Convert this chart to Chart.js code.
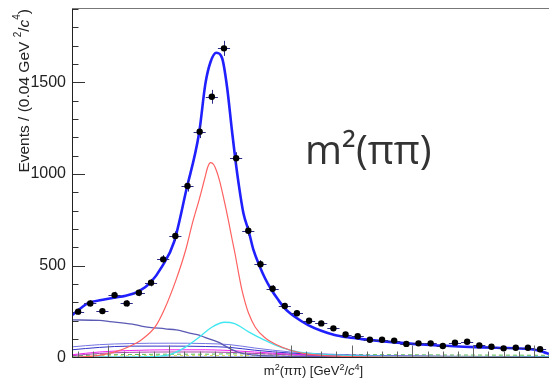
<!DOCTYPE html>
<html>
<head>
<meta charset="utf-8">
<script src="https://cdn.jsdelivr.net/npm/chart.js@4.4.0/dist/chart.umd.min.js"></script>
<style>
  html, body { margin: 0; padding: 0; background: #fff; }
</style>
</head>
<body>
<canvas id="fitChart" width="553" height="379"></canvas>
<script>
// ===== Data (m^2(pi pi) in GeV^2/c^4, events per 0.04 bin) =====
const binCenters = [0.10,0.14,0.18,0.22,0.26,0.30,0.34,0.38,0.42,0.46,0.50,0.54,0.58,0.62,0.66,0.70,0.74,0.78,0.82,0.86,
  0.90,0.94,0.98,1.02,1.06,1.10,1.14,1.18,1.22,1.26,1.30,1.34,1.38,1.42,1.46,1.50,1.54,1.58,1.62];
const events = [250,295,253,340,295,353,408,535,662,935,1231,1421,1685,1086,691,508,375,281,241,200,
  186,159,125,116,97,97,92,74,77,77,63,81,86,66,59,50,53,53,45];

const fitX = [0.080,0.115,0.136,0.177,0.218,0.257,0.298,0.338,0.376,0.416,0.456,0.498,0.519,0.536,0.555,0.574,0.590,0.606,0.617,0.628,
  0.644,0.661,0.677,0.697,0.715,0.735,0.759,0.780,0.813,0.857,0.900,0.944,0.987,1.041,1.150,1.259,1.368,1.476,1.585,1.618,1.643,1.649];
const fitTotal = [230,277,299,313,326,337,359,408,495,631,913,1222,1494,1612,1661,1631,1476,1240,1086,950,
  786,691,586,499,432,372,313,268,222,177,146,123,110,99,81,68,59,53,46,37,23,20];

const rhoX = [0.080,0.139,0.180,0.224,0.267,0.311,0.354,0.383,0.422,0.454,0.476,0.498,0.508,0.518,0.527,0.536,0.546,0.556,0.566,0.576,
  0.586,0.596,0.606,0.617,0.628,0.639,0.650,0.661,0.683,0.713,0.755,0.801,0.857,0.954,1.150,1.649];
const rhoY = [0,6,14,32,59,100,168,259,422,586,731,858,920,985,1040,1062,1052,1015,960,890,
  815,735,650,560,460,368,298,241,165,110,68,38,18,7,2,0];

const f0X = [0.080,0.237,0.334,0.400,0.452,0.498,0.540,0.582,0.615,0.661,0.713,0.768,0.824,0.889,0.987,1.150,1.649];
const f0Y = [1,2,4,15,55,110,165,192,185,140,95,55,30,18,10,5,2];

const broadX = [0.080,0.171,0.204,0.279,0.312,0.387,0.423,0.475,0.498,0.517,0.563,0.592,0.625,0.671,0.759,0.987,1.649];
const broadY = [205,202,196,182,170,156,150,130,122,110,82,55,30,14,8,5,2];

const lowX = [0.08,0.17,0.27,0.40,0.52,0.60,0.68,0.80,1.00,1.30,1.65];
const lowA = [58,70,76,78,76,70,52,30,14,7,4];
const lowB = [42,55,62,62,60,55,40,24,12,6,3];
const lowC = [15,30,38,42,42,38,30,18,9,5,2];
const lowD = [10,22,28,30,30,28,22,14,7,4,2];
const lowGreen = [8,14,16,18,18,20,20,18,16,14,12];
const lowYellow = [5,8,9,10,10,10,10,9,8,7,6];
const lowBase = [1,1,1,1,1,1,1,1,1,1,1];

const yLabels = [0,500,1000,1500];

const X_MIN = 0.08, X_MAX = 1.6493, BIN = 0.04;

// ===== Helpers =====
const pts = (xs, ys) => xs.map((x, i) => ({x: x, y: ys[i]}));

function curve(xs, ys, color, width, order, dash){
  return {
    data: pts(xs, ys), showLine: true, pointRadius: 0, borderColor: color, borderWidth: width,
    borderDash: dash || [], fill: false, cubicInterpolationMode: 'monotone', order: order
  };
}

function drawRich(ctx, parts, x, y){
  let cx = x;
  parts.forEach(p => {
    ctx.font = p[1];
    ctx.fillText(p[0], cx, y + (p[2] || 0));
    cx += ctx.measureText(p[0]).width;
  });
  return cx - x;
}
function richWidth(ctx, parts){
  let w = 0;
  parts.forEach(p => { ctx.font = p[1]; w += ctx.measureText(p[0]).width; });
  return w;
}

const SANS = '"Liberation Sans", Arial, sans-serif';

// ===== ROOT style frame, ticks, error bars, titles =====
const rootFrame = {
  id: 'rootFrame',
  beforeDatasetDraw(chart, args){
    if(args.index !== 0) return;
    const ctx = chart.ctx, xs = chart.scales.x, ys = chart.scales.y;
    ctx.save();
    ctx.strokeStyle = '#2b2b88';
    ctx.lineWidth = 1;
    binCenters.forEach((c, i) => {
      const n = events[i], e = Math.sqrt(n);
      const px = Math.round(xs.getPixelForValue(c)) + 0.5, py = ys.getPixelForValue(n);
      ctx.beginPath();
      ctx.moveTo(px, ys.getPixelForValue(n - e));
      ctx.lineTo(px, ys.getPixelForValue(n + e));
      ctx.moveTo(xs.getPixelForValue(c - BIN/2), Math.round(py) + 0.5);
      ctx.lineTo(xs.getPixelForValue(c + BIN/2), Math.round(py) + 0.5);
      ctx.stroke();
    });
    ctx.restore();
  },
  afterDatasetsDraw(chart){
    const ctx = chart.ctx, a = chart.chartArea, xs = chart.scales.x, ys = chart.scales.y;
    ctx.save();
    // x ticks (inside, from the bottom)
    ctx.strokeStyle = '#666';
    ctx.lineWidth = 1;
    for(let i = 2; i <= 33; i++){
      const v = i * 0.05;
      if(v < X_MIN || v > X_MAX) continue;
      const px = Math.round(xs.getPixelForValue(v)) + 0.5;
      const len = i % 4 === 0 ? 12 : 6;
      ctx.beginPath(); ctx.moveTo(px, a.bottom); ctx.lineTo(px, a.bottom - len); ctx.stroke();
    }
    // y ticks (inside, from the left)
    ctx.strokeStyle = '#333';
    for(let v = 100; v < ys.max; v += 100){
      const py = Math.round(ys.getPixelForValue(v)) + 0.5;
      const len = v % 500 === 0 ? 13 : 6.5;
      ctx.beginPath(); ctx.moveTo(a.left, py); ctx.lineTo(a.left + len, py); ctx.stroke();
    }
    // frame
    ctx.strokeStyle = '#222';
    ctx.beginPath();
    ctx.moveTo(a.left + 0.5, Math.round(a.top) + 0.5);
    ctx.lineTo(a.left + 0.5, a.bottom);
    ctx.lineTo(a.right, a.bottom);
    ctx.stroke();
    ctx.strokeStyle = '#777';
    ctx.beginPath();
    ctx.moveTo(a.left, Math.round(a.top) + 0.5);
    ctx.lineTo(a.right, Math.round(a.top) + 0.5);
    ctx.stroke();
    ctx.restore();
  },
  afterDraw(chart){
    const ctx = chart.ctx;
    ctx.save();
    ctx.fillStyle = '#222';
    ctx.textBaseline = 'alphabetic';
    ctx.textAlign = 'left';
    // y axis title, rotated, right aligned to the top
    const f = '15.5px ' + SANS, fs = '10px ' + SANS, fi = 'italic 15.5px ' + SANS;
    const yTitle = [['Events / (0.04 GeV ', f], ['2', fs, -8], ['/', f], ['c', fi], ['4', fs, -9], [')', f]];
    const wy = richWidth(ctx, yTitle);
    ctx.save();
    ctx.translate(29, 9);
    ctx.rotate(-Math.PI / 2);
    drawRich(ctx, yTitle, -wy, 0);
    ctx.restore();
    // x axis title
    const g = '13px ' + SANS, gs = '9px ' + SANS, gi = 'italic 13px ' + SANS;
    const xTitle = [['m', g], ['2', gs, -5], ['(\u03c0\u03c0) [GeV', g], ['2', gs, -5], ['/', g], ['c', gi], ['4', gs, -5], [']', g]];
    const wx = richWidth(ctx, xTitle);
    drawRich(ctx, xTitle, 313.5 - wx / 2, 375);
    // big label
    ctx.fillStyle = '#333';
    ctx.font = '40px "Open Sans", sans-serif';
    ctx.fillText('m\u00b2(\u03c0\u03c0)', 305, 164);
    ctx.restore();
  }
};

// ===== Chart =====
const chart = new Chart(document.getElementById('fitChart'), {
  type: 'scatter',
  data: {
    datasets: [
      { data: pts(binCenters, events), pointRadius: 3.2, pointBackgroundColor: '#000', pointBorderWidth: 0, showLine: false, order: 0 },
      curve(fitX, fitTotal, '#2020ff', 2.6, 1),
      curve(rhoX, rhoY, '#ff6060', 1.2, 2),
      curve(f0X, f0Y, '#40e6f0', 1.3, 3),
      curve(broadX, broadY, '#5a5ab4', 1.3, 4),
      curve(lowX, lowA, '#7474e4', 1, 5),
      curve(lowX, lowB, '#3434c8', 1, 6),
      curve(lowX, lowC, '#ee22ee', 1, 7),
      curve(lowX, lowD, '#aa44aa', 1, 8),
      curve(lowX, lowGreen, '#55bb55', 1, 9, [4, 3]),
      curve(lowX, lowYellow, '#d6d650', 1, 10, [3, 3]),
      curve(lowX, lowBase, '#4466dd', 1.4, 11)
    ]
  },
  options: {
    responsive: false,
    animation: false,
    events: [],
    layout: { padding: { top: 8, right: 0, left: 0, bottom: 0 } },
    plugins: { legend: { display: false }, tooltip: { enabled: false } },
    scales: {
      x: {
        type: 'linear', min: X_MIN, max: X_MAX,
        ticks: { display: false },
        grid: { display: false, drawTicks: false },
        border: { display: false },
        afterFit: s => { s.height = 21.5; s.paddingLeft = 0; s.paddingRight = 0; }
      },
      y: {
        min: 0, max: 1905,
        afterBuildTicks: s => { s.ticks = yLabels.map(v => ({value: v})); },
        ticks: {
          autoSkip: false, padding: 6, color: '#222',
          font: { family: '"Liberation Sans Narrow", "Liberation Sans", Arial', size: 16 },
          callback: v => String(Math.round(v))
        },
        grid: { display: false, drawTicks: false },
        border: { display: false },
        afterFit: s => { s.width = 72; s.paddingTop = 0; s.paddingBottom = 0; }
      }
    }
  },
  plugins: [rootFrame]
});
</script>
</body>
</html>
